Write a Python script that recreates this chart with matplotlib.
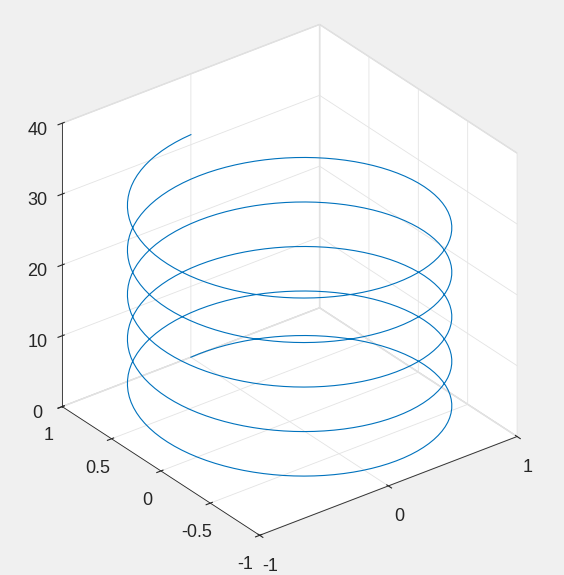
import numpy as np
import matplotlib.pyplot as plt

plt.rcParams['font.family'] = ['Liberation Sans', 'DejaVu Sans']

# helix: plot3(sin(t), cos(t), t)
t = np.arange(0, 10 * np.pi + 1e-9, np.pi / 50)
x_vals = np.sin(t)
y_vals = np.cos(t)
z_vals = t

x_ticks = [-1, 0, 1]
y_ticks = [-1, -0.5, 0, 0.5, 1]
z_ticks = [0, 10, 20, 30, 40]

fig = plt.figure(figsize=(5.64, 5.75), dpi=100, facecolor='#f0f0f0')
ax = fig.add_axes([0.0, 0.0, 1.0, 1.0], projection='3d', proj_type='ortho')
ax.set_facecolor('#f0f0f0')
ax.view_init(elev=30, azim=-127.5)

ax.plot(x_vals, y_vals, z_vals, color='#0072BD', linewidth=0.8)

ax.set_xlim(-1, 1)
ax.set_ylim(-1, 1)
ax.set_zlim(0, 40)
ax.set_xticks(x_ticks)
ax.set_yticks(y_ticks)
ax.set_zticks(z_ticks)
ax.set_xticklabels(['-1', '0', '1'])
ax.set_yticklabels(['-1', '-0.5', '0', '0.5', '1'])
ax.set_zticklabels([str(v) for v in z_ticks])
ax.set_box_aspect((1.16, 1.16, 1.17), zoom=0.97)

for axis in (ax.xaxis, ax.yaxis, ax.zaxis):
    axis.set_pane_color((1, 1, 1, 1))
    axis.pane.set_edgecolor('#d9d9d9')
    axis._axinfo['grid']['color'] = '#e3e3e3'
    axis._axinfo['grid']['linewidth'] = 0.6
    axis.line.set_color('#262626')
    axis.line.set_linewidth(0.6)
ax.tick_params(labelsize=13, colors='#262626')

plt.savefig('out.png', dpi=100, facecolor=fig.get_facecolor())
